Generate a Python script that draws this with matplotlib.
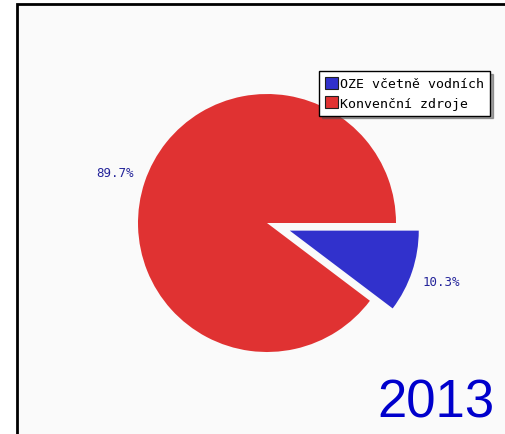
import matplotlib.pyplot as plt
from matplotlib.patches import Rectangle

# data
labels = ["OZE včetně vodních", "Konvenční zdroje"]
values = [10.3, 89.7]
colors = ["#3131cc", "#e03232"]
year = "2013"

W, H = 505, 435
fig = plt.figure(figsize=(W / 100, H / 100), dpi=100)
fig.patch.set_facecolor("white")

# frame around plot area (cut at right/bottom like the original)
frame = Rectangle((17 / W, -0.05), 1.2, 1 - 5 / H + 0.05, transform=fig.transFigure,
                  facecolor="#fafafa", edgecolor="black", linewidth=2, zorder=-5)
fig.patches.append(frame)

# pie axes: centre at (267, 224) px, radius 129 px
cx, cy, r = 267, 224, 129
half = 200
ax = fig.add_axes([(cx - half) / W, (H - cy - half) / H, 2 * half / W, 2 * half / H])
ax.set_zorder(2)

wedges, texts, autotexts = ax.pie(
    values, colors=colors, startangle=0, counterclock=False,
    explode=[24 / r, 0], autopct="%.1f%%", pctdistance=1.24,
    radius=1, frame=True,
    textprops=dict(family="DejaVu Sans Mono", fontsize=9, color="#24249a"),
    wedgeprops=dict(linewidth=0),
)
ax.set_xlim(-half / r, half / r)
ax.set_ylim(-half / r, half / r)
ax.set_aspect("equal")
ax.axis("off")

leg = fig.legend(wedges, labels, loc="upper right",
                 bbox_to_anchor=(490 / W, 1 - 72 / H),
                 prop=dict(family="DejaVu Sans Mono", size=9.5),
                 frameon=True, fancybox=False, shadow=True, edgecolor="black",
                 framealpha=1, borderpad=0.45, labelspacing=0.45,
                 handlelength=1.0, handleheight=1.0, handletextpad=0.15,
                 borderaxespad=0)
leg.set_zorder(5)
for h in leg.legend_handles:
    h.set_edgecolor("#202020")
    h.set_linewidth(0.8)

fig.text(495 / W, 1 - 418 / H, year, ha="right", va="baseline",
         family="Liberation Sans", fontsize=38, color="#0000cc")

fig.savefig("out.png", dpi=100)
